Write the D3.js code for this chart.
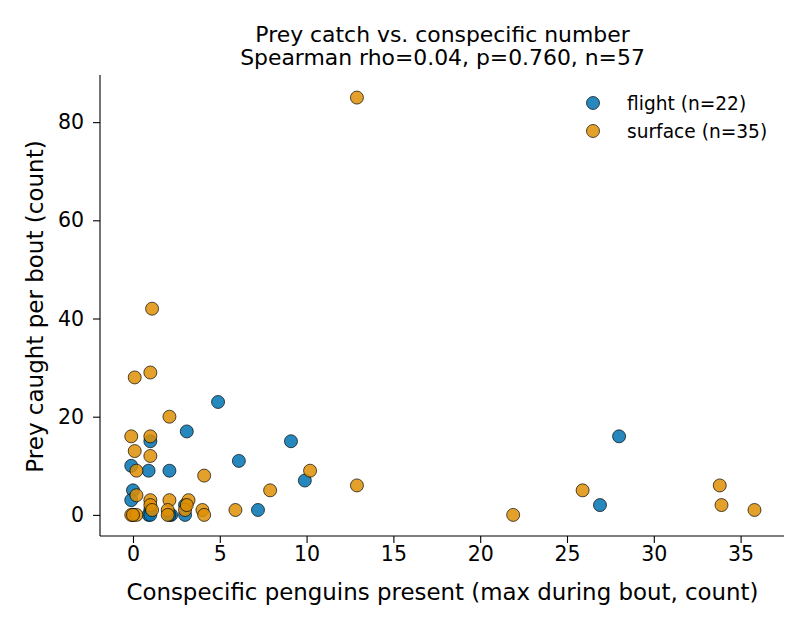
<!DOCTYPE html>
<html><head><meta charset="utf-8">
<script src="https://cdn.jsdelivr.net/npm/d3@7"></script>
<style>body{margin:0;background:#fff}svg{display:block}text{font-family:"DejaVu Sans",sans-serif;fill:#000}</style>
</head><body>
<script>
const titleLines = ["Prey catch vs. conspecific number", "Spearman rho=0.04, p=0.760, n=57"];
const xLabel = "Conspecific penguins present (max during bout, count)";
const yLabel = "Prey caught per bout (count)";
const xTicks = [0, 5, 10, 15, 20, 25, 30, 35];
const yTicks = [0, 20, 40, 60, 80];
const seriesNames = ["flight (n=22)", "surface (n=35)"];
const seriesColors = ["#0173b2", "#de8f05"];
const flightX = [4.9, 3.1, 1.0, -0.1, 0.9, 2.1, 0.0, -0.1, 3.0, 1.0, 0.9, 2.2, 3.0, 9.1, 6.1, 9.9, 7.2, 28.0, 26.9, 0.0, 1.0, 2.1];
const flightY = [23, 17, 15, 10, 9, 9, 5, 3, 2, 1, 0, 0, 0, 15, 11, 7, 1, 16, 2, 0, 0, 0];
const surfaceX = [1.1, 0.1, 1.0, 2.1, -0.1, 1.0, 0.1, 1.0, 0.2, 4.1, 0.2, 1.0, 2.1, 3.2, 4.0, 4.1, 3.0, 2.0, 1.0, 2.0, -0.1, 0.2, 10.2, 12.9, 7.9, 5.9, 25.9, 21.9, 33.8, 33.9, 35.8, 12.9, 0.0, 1.1, 3.1];
const surfaceY = [42, 28, 29, 20, 16, 16, 13, 12, 9, 8, 4, 3, 3, 3, 1, 0, 1, 1, 2, 0, 0, 0, 9, 6, 5, 1, 5, 0, 6, 2, 1, 85, 0, 1, 2];

const W = 810, H = 630;
const m = {left: 100, right: 26, top: 75, bottom: 94};
const svg = d3.select("body").append("svg").attr("width", W).attr("height", H);
const x = d3.scaleLinear().domain([-1.9, 37.5]).range([m.left, W - m.right]);
const y = d3.scaleLinear().domain([-4.3, 89.6]).range([H - m.bottom, m.top]);

const tickFs = 20.5;
const xa = svg.append("g").attr("transform", `translate(0,${H - m.bottom})`)
  .call(d3.axisBottom(x).tickValues(xTicks).tickSize(7).tickPadding(3).tickFormat(d3.format("d")));
const ya = svg.append("g").attr("transform", `translate(${m.left},0)`)
  .call(d3.axisLeft(y).tickValues(yTicks).tickSize(7).tickPadding(9).tickFormat(d3.format("d")));
[xa, ya].forEach(a => {
  a.selectAll("text").attr("font-size", tickFs).attr("font-family", "DejaVu Sans").attr("fill", "#000");
  a.selectAll("line").attr("stroke", "#000").attr("stroke-width", 1.1);
  a.select(".domain").attr("stroke", "#000").attr("stroke-width", 1.1);
});
xa.select(".domain").attr("d", `M${x.range()[0]},0H${x.range()[1]}`);
ya.select(".domain").attr("d", `M0,${y.range()[0]}V${y.range()[1]}`);

const series = [
  {xs: flightX, ys: flightY},
  {xs: surfaceX, ys: surfaceY}
];
series.forEach((s, i) => {
  svg.append("g").selectAll("circle").data(d3.range(s.xs.length)).join("circle")
    .attr("cx", k => x(s.xs[k])).attr("cy", k => y(s.ys[k])).attr("r", 6.5)
    .attr("fill", seriesColors[i]).attr("fill-opacity", 0.85)
    .attr("stroke", "#000").attr("stroke-opacity", 0.85).attr("stroke-width", 0.8);
});

svg.append("text").attr("x", (m.left + W - m.right) / 2 + 0.5).attr("y", 600).attr("text-anchor", "middle")
  .attr("font-size", 22.9).text(xLabel);
svg.append("text").attr("transform", `translate(43,${(m.top + H - m.bottom) / 2 + 1}) rotate(-90)`).attr("text-anchor", "middle")
  .attr("font-size", 23).text(yLabel);
titleLines.forEach((t, i) => svg.append("text").attr("x", (m.left + W - m.right) / 2 + 0.5).attr("y", 41.5 + i * 23)
  .attr("text-anchor", "middle").attr("font-size", 21.9).text(t));

const lg = svg.append("g");
seriesNames.forEach((n, i) => {
  lg.append("circle").attr("cx", 593).attr("cy", 103 + i * 28).attr("r", 6.5)
    .attr("fill", seriesColors[i]).attr("fill-opacity", 0.85).attr("stroke", "#000").attr("stroke-opacity", 0.85).attr("stroke-width", 0.8);
  lg.append("text").attr("x", 627).attr("y", 103 + i * 28).attr("dy", "0.35em").attr("font-size", 18.6).text(n);
});
</script>
</body></html>
